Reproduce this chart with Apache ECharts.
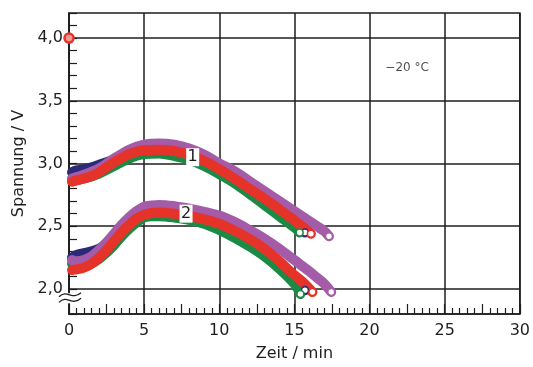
<!DOCTYPE html>
<html><head><meta charset="utf-8">
<script src="https://cdn.jsdelivr.net/npm/echarts@6/dist/echarts.min.js"></script>
<style>html,body{margin:0;padding:0;background:#fff}#c{width:533px;height:367px}</style>
</head><body><div id="c"></div>
<script>
// ---- data ----
const xTicks = [0, 5, 10, 15, 20, 25, 30];
const yTicks = [2.0, 2.5, 3.0, 3.5, 4.0];

// group 1
const t1Navy = [0.2,0.5,1,1.5,2,2.5,3,4,5,6,7,8,10,12,14,15,15.7];
const v1Navy = [2.93,2.945,2.955,2.97,2.99,3.01,3.03,3.07,3.09,3.09,3.08,3.05,2.94,2.78,2.61,2.52,2.45];
const t1Green = [0.2,1,2,3,4,5,6,7,8,9,10,11,12,13,14,15,15.35];
const v1Green = [2.86,2.88,2.92,2.98,3.04,3.075,3.08,3.06,3.03,2.98,2.915,2.845,2.76,2.67,2.58,2.49,2.45];
const t1Purple = [0.2,1,2,3,4,5,6,7,8,9,10,11,12,13,14,15,16,16.5,17,17.3];
const v1Purple = [2.88,2.91,2.96,3.04,3.11,3.15,3.16,3.15,3.12,3.07,3.0,2.94,2.86,2.78,2.70,2.62,2.54,2.50,2.46,2.42];
const t1Red = [0.2,0.5,1,1.5,2,2.5,3,3.5,4,4.5,5,6,7,8,9,10,11,12,13,14,15,15.6,16.1];
const v1Red = [2.855,2.865,2.88,2.90,2.93,2.97,3.01,3.045,3.075,3.095,3.105,3.11,3.10,3.07,3.02,2.955,2.88,2.80,2.72,2.635,2.545,2.49,2.44];

// group 2
const t2Navy = [0.2,0.5,1,1.5,2,2.5,3,3.5,4,5,6,7,8,10,12,14,15,15.7];
const v2Navy = [2.25,2.27,2.285,2.30,2.32,2.36,2.41,2.46,2.52,2.59,2.60,2.59,2.57,2.50,2.37,2.19,2.08,1.99];
const t2Green = [0.2,0.5,1,1.5,2,2.5,3,3.5,4,4.5,5,5.5,6,7,8,9,10,11,12,13,14,15,15.4];
const v2Green = [2.20,2.18,2.185,2.205,2.24,2.29,2.35,2.42,2.48,2.53,2.57,2.58,2.58,2.57,2.55,2.52,2.47,2.41,2.34,2.26,2.16,2.04,1.96];
const t2Purple = [0.2,0.5,1,1.5,2,2.5,3,3.5,4,4.5,5,5.5,6,7,8,9,10,11,12,13,14,15,16,16.5,17,17.45];
const v2Purple = [2.23,2.22,2.23,2.26,2.31,2.37,2.44,2.51,2.57,2.62,2.655,2.665,2.67,2.66,2.64,2.615,2.585,2.535,2.47,2.40,2.32,2.23,2.14,2.09,2.04,1.975];
const t2Red = [0.2,0.5,1,1.5,2,2.5,3,3.5,4,4.5,5,5.5,6,7,8,9,10,11,12,13,14,15,15.6,16.2];
const v2Red = [2.15,2.155,2.17,2.20,2.25,2.31,2.38,2.45,2.51,2.56,2.59,2.605,2.61,2.60,2.58,2.555,2.52,2.465,2.40,2.32,2.22,2.11,2.05,1.975];

const startPoint = [[0, 4.0]];
const curveLabels = [[8.23, 3.05, '1'], [7.79, 2.60, '2']];
const tempLabel = [[22.5, 3.76, '\u221220 \u00b0C']];

// ---- styles ----
const FONT = 'DejaVu Sans';
const INK = '#1e1e1e';
const C_NAVY = '#2c2a78', C_GREEN = '#1b8a45', C_PURPLE = '#a55ca8', C_RED = '#e5332a';

function fmt(v){ return v.toFixed(1).replace('.', ','); }
function isLabelled(v){ return yTicks.some(t => Math.abs(t - v) < 1e-6); }

function curve(name, ts, vs, color){
  return {
    type:'line', name, smooth:0.35, z:5, silent:true,
    symbol:'none', showSymbol:true,
    lineStyle:{color, width:10, cap:'round', join:'round'},
    itemStyle:{color:'#fff', borderColor:color, borderWidth:1.6},
    data: ts.map((t,i) => (i === ts.length-1)
      ? {value:[t, vs[i]], symbol:'circle', symbolSize:7}
      : [t, vs[i]])
  };
}

const chart = echarts.init(document.getElementById('c'), null, {renderer:'canvas'});
chart.setOption({
  animation:false,
  textStyle:{fontFamily:FONT},
  grid:{left:69, right:11, top:13, bottom:51, show:true, borderColor:INK, borderWidth:1.5},
  xAxis:[{
    type:'value', min:0, max:30, interval:5,
    axisLine:{show:true, lineStyle:{color:INK, width:1.5}},
    axisTick:{show:false},
    axisLabel:{fontSize:16, color:INK, margin:9, fontFamily:FONT, formatter: v => xTicks.includes(v) ? String(v) : ''},
    splitLine:{show:true, lineStyle:{color:INK, width:1.5}},
    name:'Zeit / min', nameLocation:'middle', nameGap:32,
    nameTextStyle:{fontSize:16, color:INK, fontFamily:FONT}
  },{
    type:'value', min:0, max:30, interval:2.5, position:'bottom',
    axisLine:{show:false}, axisLabel:{show:false}, splitLine:{show:false},
    axisTick:{show:true, inside:true, length:10, lineStyle:{color:INK, width:1.2}},
    minorTick:{show:true, splitNumber:5, length:6, lineStyle:{color:INK, width:1.2}}
  }],
  yAxis:[{
    type:'value', min:1.8, max:4.2, interval:0.1,
    axisLine:{show:true, lineStyle:{color:INK, width:1.5}},
    axisTick:{show:true, inside:true, length:8, lineStyle:{color:INK, width:1.2}},
    axisLabel:{fontSize:16, color:INK, margin:6, fontFamily:FONT, formatter: v => isLabelled(v) ? fmt(v) : ''},
    splitLine:{show:false},
    name:'Spannung / V', nameLocation:'middle', nameGap:42,
    nameTextStyle:{fontSize:16, color:INK, fontFamily:FONT}
  }],
  series:[
    {type:'scatter', data:[], silent:true,
     markLine:{z:1, silent:true, symbol:'none', label:{show:false},
       lineStyle:{color:INK, width:1.5, type:'solid'},
       data: yTicks.map(v => ({yAxis:v}))}},
    curve('g1 navy', t1Navy, v1Navy, C_NAVY),
    curve('g2 navy', t2Navy, v2Navy, C_NAVY),
    curve('g1 green', t1Green, v1Green, C_GREEN),
    curve('g2 green', t2Green, v2Green, C_GREEN),
    curve('g1 purple', t1Purple, v1Purple, C_PURPLE),
    curve('g2 purple', t2Purple, v2Purple, C_PURPLE),
    curve('g1 red', t1Red, v1Red, C_RED),
    curve('g2 red', t2Red, v2Red, C_RED),
    {type:'scatter', z:6, silent:true, clip:false, data:startPoint,
     symbol:'circle', symbolSize:9,
     itemStyle:{color:'#f29a92', borderColor:C_RED, borderWidth:2.5, opacity:1}},
    {type:'scatter', z:8, silent:true, data:curveLabels,
     symbol:'rect', symbolSize:[13,18], itemStyle:{color:'#fff', opacity:1},
     label:{show:true, position:'inside', formatter: p => p.value[2], fontSize:16, color:INK, fontFamily:FONT, textBorderWidth:0}},
    {type:'scatter', z:8, silent:true, data:tempLabel, symbolSize:0,
     label:{show:true, position:'inside', formatter: p => p.value[2], fontSize:12, color:INK, fontFamily:FONT, textBorderWidth:0}}
  ]
});

// axis break decoration on the y axis (below 2,0)
const pTop = chart.convertToPixel({gridIndex:0}, [0, 1.965]);
const pBot = chart.convertToPixel({gridIndex:0}, [0, 1.885]);
const x0 = pTop[0];
function wave(yc){
  return {type:'bezierCurve', z:101,
    shape:{x1:x0-10, y1:yc+2, cpx1:x0-2, cpy1:yc-6, cpx2:x0+3, cpy2:yc+6, x2:x0+12, y2:yc-2},
    style:{stroke:INK, lineWidth:1.3, fill:null}};
}
chart.setOption({graphic:[
  {type:'rect', z:100, shape:{x:x0-11, y:pTop[1], width:22, height:pBot[1]-pTop[1]}, style:{fill:'#fff'}},
  wave(pTop[1]+1.5),
  wave(pBot[1]-3)
]});
</script>
</body></html>
